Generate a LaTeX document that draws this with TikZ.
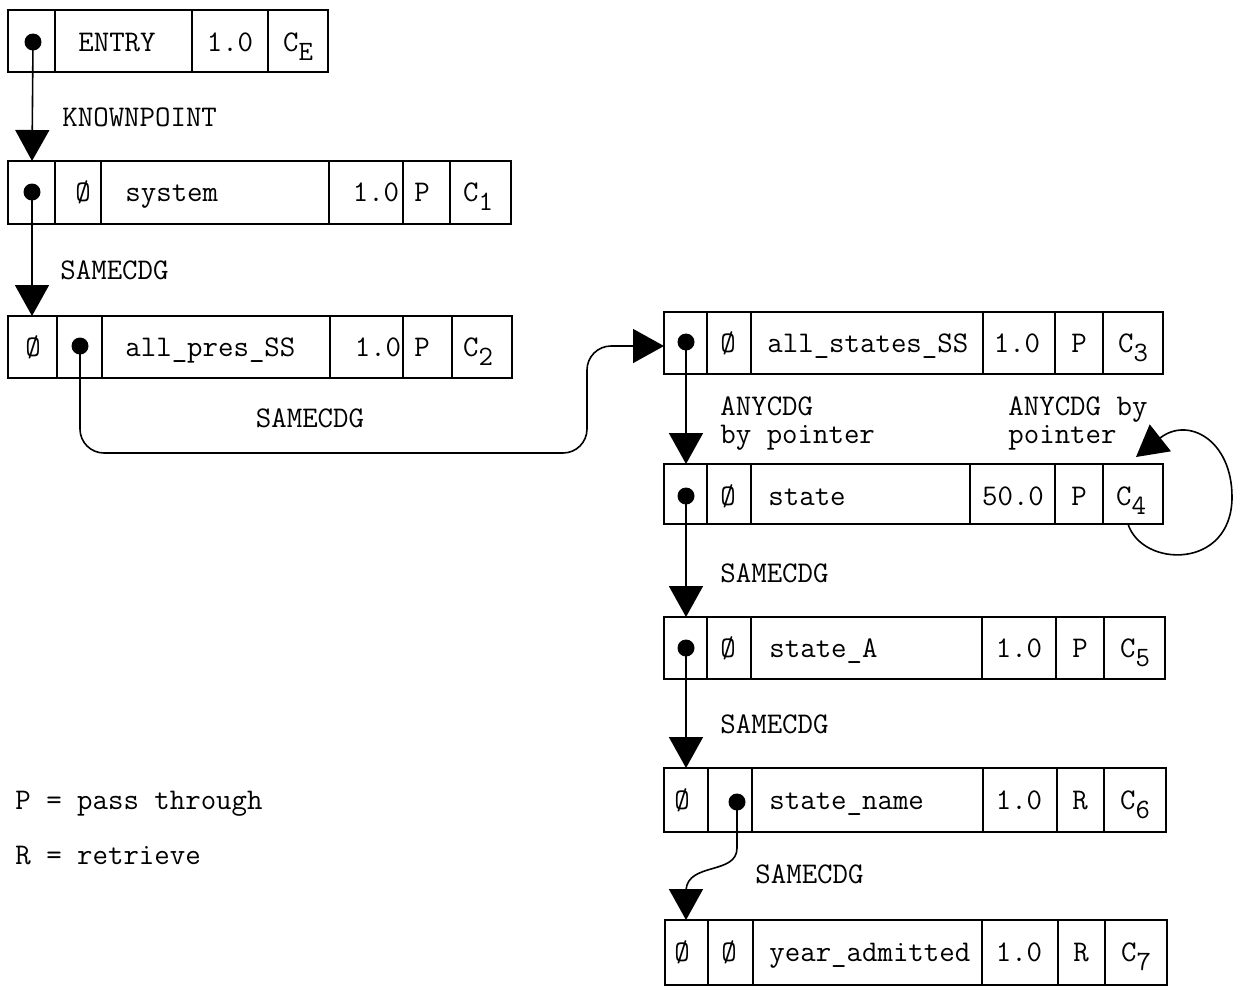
\documentclass[tikz,border=0pt]{standalone}
\usepackage{fontspec}
\usetikzlibrary{arrows.meta}
\tikzset{
  boxline/.style={line width=1pt},
  conn/.style={line width=0.8pt,-{Triangle[width=17pt,length=15.5pt]}},
  dotn/.style={circle,fill,inner sep=0pt,minimum size=8.5pt},
  txt/.style={font=\ttfamily\fontsize{15}{17}\selectfont,inner sep=0pt,text height=9pt,text depth=0pt},
  lbl/.style={txt,anchor=west},
  two/.style={font=\ttfamily\fontsize{15}{14}\selectfont,inner sep=0pt,align=left,anchor=north west},
}
\newcommand\sbs[1]{\raisebox{-4.5pt}{\fontsize{14}{14}\selectfont #1}}
\newcommand\myrec[5]{%
  \draw[boxline] (#3,#1) rectangle (#4,#2);
  \foreach \xx in {#5} {\draw[boxline] (\xx,#1) -- (\xx,#2);}
}
\begin{document}
\begin{tikzpicture}[x=0.5pt,y=-0.5pt]
\useasboundingbox (0,0) rectangle (1237,987);

% ---------- record ENTRY
\myrec{10}{72}{8}{328}{55,192,268}
\node[dotn] (eDot) at (33,42) {};
\node[txt] (eName) at (117,42) {ENTRY};
\node[txt] (eW) at (230,42) {1.0};
\node[txt] (eC) at (298,42) {C\sbs{E}};

% ---------- record system
\myrec{161}{224}{8}{511}{55,101,329,403,450}
\node[dotn] (sDot) at (32,192) {};
\node[txt] (sN) at (83,192) {Ø};
\node[txt,anchor=west] (sName) at (125,192) {system};
\node[txt] (sW) at (376,192) {1.0};
\node[txt] (sP) at (422,192) {P};
\node[txt] (sC) at (478,192) {C\sbs{1}};

% ---------- record all_pres_SS
\myrec{316}{378}{8}{512}{57,102,330,403,452}
\node[txt] (pN) at (33,347) {Ø};
\node[dotn] (pDot) at (80,346) {};
\node[txt,anchor=west] (pName) at (125,347) {all\_pres\_SS};
\node[txt] (pW) at (378,347) {1.0};
\node[txt] (pP) at (422,347) {P};
\node[txt] (pC) at (478,347) {C\sbs{2}};

% ---------- record all_states_SS
\myrec{312}{374}{664}{1163}{707,751,983,1055,1103}
\node[dotn] (aDot) at (686,342) {};
\node[txt] (aN) at (728,343) {Ø};
\node[txt,anchor=west] (aName) at (767,343) {all\_states\_SS};
\node[txt] (aW) at (1017,343) {1.0};
\node[txt] (aP) at (1079,343) {P};
\node[txt] (aC) at (1133,343) {C\sbs{3}};

% ---------- record state
\myrec{464}{524}{664}{1163}{707,751,970,1055,1103}
\node[dotn] (tDot) at (686,496) {};
\node[txt] (tN) at (728,496) {Ø};
\node[txt,anchor=west] (tName) at (768,496) {state};
\node[txt] (tW) at (1013,496) {50.0};
\node[txt] (tP) at (1079,496) {P};
\node[txt] (tC) at (1131,496) {C\sbs{4}};

% ---------- record state_A
\myrec{617}{679}{664}{1165}{707,751,982,1056,1104}
\node[dotn] (uDot) at (686,648) {};
\node[txt] (uN) at (728,648) {Ø};
\node[txt,anchor=west] (uName) at (769,648) {state\_A};
\node[txt] (uW) at (1019,648) {1.0};
\node[txt] (uP) at (1080,648) {P};
\node[txt] (uC) at (1135,648) {C\sbs{5}};

% ---------- record state_name
\myrec{768}{832}{664}{1166}{708,752,983,1057,1104}
\node[txt] (nN) at (682,800) {Ø};
\node[dotn] (nDot) at (737,802) {};
\node[txt,anchor=west] (nName) at (769,800) {state\_name};
\node[txt] (nW) at (1019,800) {1.0};
\node[txt] (nR) at (1080,800) {R};
\node[txt] (nC) at (1135,800) {C\sbs{6}};

% ---------- record year_admitted
\myrec{920}{985}{665}{1167}{708,753,982,1058,1105}
\node[txt] (yN1) at (682,952) {Ø};
\node[txt] (yN2) at (729,952) {Ø};
\node[txt,anchor=west] (yName) at (769,952) {year\_admitted};
\node[txt] (yW) at (1019,952) {1.0};
\node[txt] (yR) at (1081,952) {R};
\node[txt] (yC) at (1136,952) {C\sbs{7}};

% ---------- connector targets
\coordinate (sT) at (32,161);
\coordinate (pT) at (32,316);
\coordinate (bend) at (587,453);
\coordinate (aL) at (664,346);
\coordinate (tT) at (686,464);
\coordinate (uT) at (686,617);
\coordinate (nT) at (686,768);
\coordinate (nOut) at (737,848);
\coordinate (yT) at (686,920);
\coordinate (loopS) at (1128,524);
\coordinate (loopE) at (1136,457);

% ---------- connectors
\draw[conn] (eDot.center) -- (sT);
\draw[conn] (sDot.center) -- (pT);
\draw[conn,rounded corners=12pt] (pDot.center) |- (bend) |- (aL);
\draw[conn] (aDot.center) -- (tT);
\draw[conn] (loopS) .. controls (1142,568) and (1232,570) .. (1232,497)
                    .. controls (1232,440) and (1188,416) .. (loopE);
\draw[conn] (tDot.center) -- (uT);
\draw[conn] (uDot.center) -- (nT);
\draw[conn] (nDot.center) -- (nOut) .. controls (737,875) and (688,862) .. (686,890) -- (yT);

% ---------- labels
\node[lbl] (l1) at (62,117) {KNOWNPOINT};
\node[lbl] (l2) at (60,270) {SAMECDG};
\node[txt] (l3) at (310,418) {SAMECDG};
\node[two] (l4) at (720,396) {ANYCDG\\by pointer};
\node[two] (l5) at (1008,396) {ANYCDG by\\pointer};
\node[lbl] (l6) at (720,573) {SAMECDG};
\node[lbl] (l7) at (720,724) {SAMECDG};
\node[lbl] (l8) at (755,874) {SAMECDG};
\node[lbl] (g1) at (15,800) {P = pass through};
\node[lbl] (g2) at (15,855) {R = retrieve};
\end{tikzpicture}
\end{document}
